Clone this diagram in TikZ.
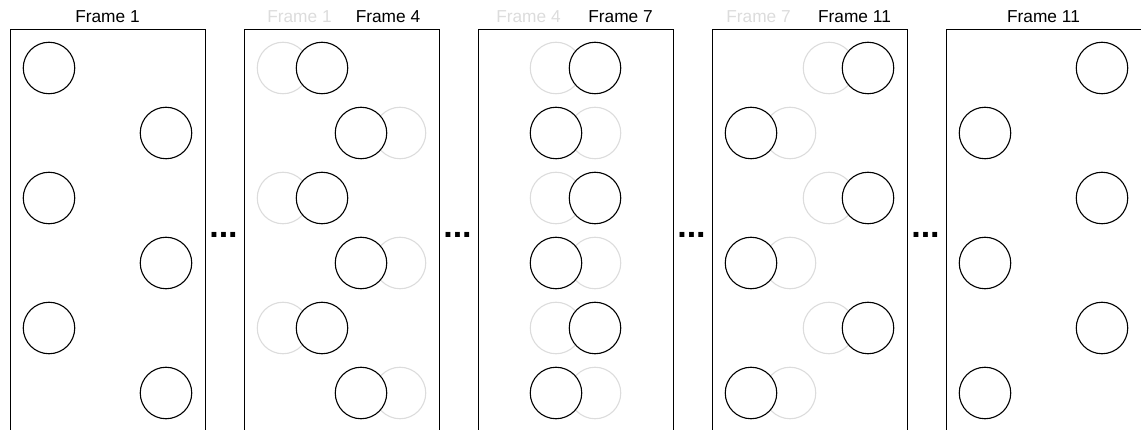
\documentclass[tikz,border=0pt]{standalone}
\usepackage{fontspec}
\setmainfont{Liberation Sans}
\definecolor{ghost}{HTML}{DCDCDC}
\begin{document}
\begin{tikzpicture}[x=1pt,y=-1pt,
  frame/.style={draw=black, line width=1.1pt, minimum width=195pt, minimum height=430pt, inner sep=0pt, anchor=north west},
  ball/.style={circle, draw=black, fill=white, line width=1.1pt, minimum size=51.5pt, inner sep=0pt},
  oldball/.style={circle, draw=ghost, line width=1.1pt, minimum size=51.5pt, inner sep=0pt},
  lab/.style={font=\fontsize{17.3}{20}\selectfont, anchor=base, inner sep=0pt},
  oldlab/.style={lab, text=ghost},
  dots/.style={font=\fontsize{34}{36}\selectfont\bfseries, anchor=base, inner sep=0pt}]
\clip (0,0) rectangle (1141,430);
% frames
\node[frame] (f1) at (10,29) {};
\node[frame] (f2) at (244,29) {};
\node[frame] (f3) at (478,29) {};
\node[frame] (f4) at (712,29) {};
\node[frame] (f5) at (946,29) {};
% labels
\node[lab] (l1) at (107.5,23) {Frame 1};
\node[oldlab] (l2a) at (299.5,23) {Frame 1};
\node[lab] (l2) at (388,23) {Frame 4};
\node[oldlab] (l3a) at (528.5,23) {Frame 4};
\node[lab] (l3) at (620.5,23) {Frame 7};
\node[oldlab] (l4a) at (758.5,23) {Frame 7};
\node[lab] (l4) at (854.5,23) {Frame 11};
\node[lab] (l5) at (1043.5,23) {Frame 11};
% dots
\node[dots] (d1) at (223.5,238) {...};
\node[dots] (d2) at (457.5,238) {...};
\node[dots] (d3) at (691.5,238) {...};
\node[dots] (d4) at (925.5,238) {...};
% circles in rows 1,3,5 (moving right)
\foreach \r/\y in {1/68,3/198,5/328}{
  \node[ball] (a\r) at (10+39,\y) {};
  \node[oldball] (bo\r) at (244+39,\y) {};
  \node[ball] (b\r) at (244+78,\y) {};
  \node[oldball] (co\r) at (478+78,\y) {};
  \node[ball] (c\r) at (478+117,\y) {};
  \node[oldball] (do\r) at (712+117,\y) {};
  \node[ball] (e\r) at (712+156,\y) {};
  \node[ball] (g\r) at (946+156,\y) {};
}
% circles in rows 2,4,6 (moving left)
\foreach \r/\y in {2/133,4/263,6/393}{
  \node[ball] (a\r) at (10+156,\y) {};
  \node[oldball] (bo\r) at (244+156,\y) {};
  \node[ball] (b\r) at (244+117,\y) {};
  \node[oldball] (co\r) at (478+117,\y) {};
  \node[ball] (c\r) at (478+78,\y) {};
  \node[oldball] (do\r) at (712+78,\y) {};
  \node[ball] (e\r) at (712+39,\y) {};
  \node[ball] (g\r) at (946+39,\y) {};
}
\end{tikzpicture}
\end{document}
